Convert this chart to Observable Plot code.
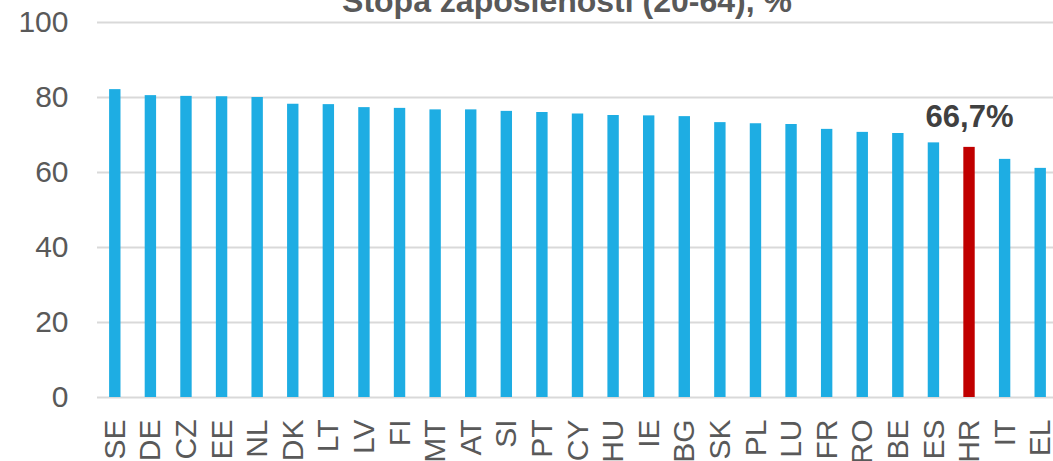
<!DOCTYPE html>
<html>
<head>
<meta charset="utf-8">
<script src="https://cdn.jsdelivr.net/npm/d3@7"></script>
<script src="https://cdn.jsdelivr.net/npm/@observablehq/plot@0.6"></script>
<style>
  html, body { margin: 0; padding: 0; background: #fff; }
  #wrap { position: relative; width: 1053px; height: 461px; overflow: hidden; }
  #title { position: absolute; left: 89px; width: 956px; top: -15px; text-align: center;
           font: bold 32px "Liberation Sans", Arial, sans-serif; line-height: 32px; color: #595959; }
  #chart { position: absolute; left: 0; top: 0; }
</style>
</head>
<body>
<div id="wrap">
  <div id="chart"></div>
  <div id="title">Stopa zaposlenosti (20-64), %</div>
</div>
<script>
const countries = ["SE","DE","CZ","EE","NL","DK","LT","LV","FI","MT","AT","SI","PT","CY","HU","IE","BG","SK","PL","LU","FR","RO","BE","ES","HR","IT","EL"];
const values = [82.1,80.5,80.3,80.2,80.0,78.2,78.1,77.3,77.1,76.7,76.7,76.3,76.0,75.6,75.2,75.1,74.9,73.3,73.0,72.8,71.5,70.7,70.4,67.9,66.7,63.5,61.1];
const highlight = "HR";
const yTicks = [0,20,40,60,80,100];

const data = countries.map((c, i) => ({country: c, value: values[i]}));
const hl = data.filter(d => d.country === highlight);
const fmt = v => v.toFixed(1).replace(".", ",") + "%";

const chart = Plot.plot({
  width: 1053,
  height: 461,
  marginLeft: 97,
  marginRight: 0,
  marginTop: 22,
  marginBottom: 64,
  style: {fontFamily: '"Liberation Sans", Arial, sans-serif', background: "#fff"},
  x: {domain: countries, range: [97, 1058], paddingInner: 0.68, paddingOuter: 0.34, align: 0.5, round: false},
  y: {domain: [0, 100]},
  marks: [
    Plot.gridY(yTicks, {stroke: "#d9d9d9", strokeOpacity: 1, strokeWidth: 2}),
    Plot.barY(data, {x: "country", y: "value", fill: d => d.country === highlight ? "#c00000" : "#1eade3"}),
    Plot.text(hl, {x: "country", y: "value", text: d => fmt(d.value), dy: -30, fontSize: 31, fontWeight: "bold", fill: "#404040"}),
    Plot.axisY(yTicks, {tickSize: 0, tickPadding: 29, fontSize: 30, fill: "#595959", label: null}),
    Plot.axisX({tickSize: 0, tickRotate: -90, tickPadding: 22, fontSize: 30, fill: "#595959", label: null})
  ]
});
document.getElementById("chart").appendChild(chart);
</script>
</body>
</html>
